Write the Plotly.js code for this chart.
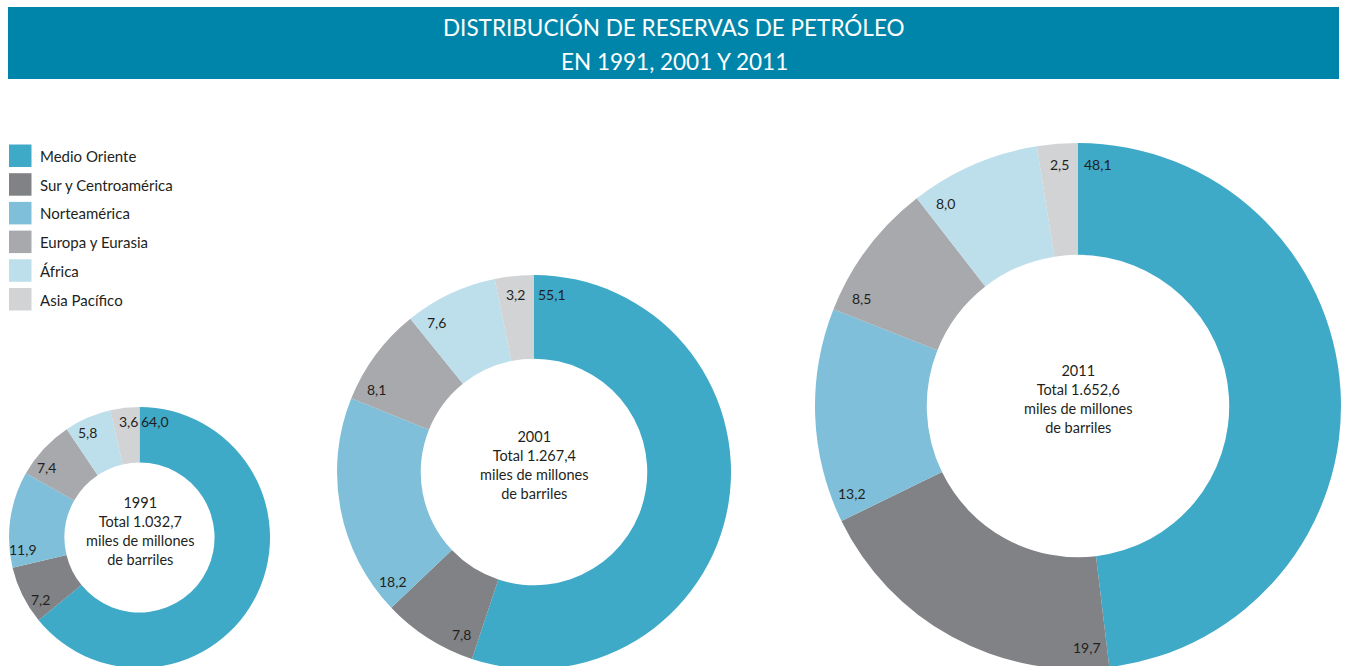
<!DOCTYPE html>
<html>
<head>
<meta charset="utf-8">
<script src="https://cdn.plot.ly/plotly-3.0.1.min.js"></script>
<style>
html,body{margin:0;padding:0;background:#fff;overflow:hidden;width:1345px;height:666px;}
#chart{width:1345px;height:700px;}
</style>
</head>
<body>
<div id="chart"></div>
<script>
// ---- DATA ----
const regions = ["Medio Oriente", "Sur y Centroamérica", "Norteamérica", "Europa y Eurasia", "África", "Asia Pacífico"];
const years = ["1991", "2001", "2011"];
const totals = ["1.032,7", "1.267,4", "1.652,6"];
const shares1991 = [64.0, 7.2, 11.9, 7.4, 5.8, 3.6];
const shares2001 = [55.1, 7.8, 18.2, 8.1, 7.6, 3.2];
const shares2011 = [48.1, 19.7, 13.2, 8.5, 8.0, 2.5];
const titleLines = ["DISTRIBUCIÓN DE RESERVAS DE PETRÓLEO", "EN 1991, 2001 Y 2011"];

// ---- STYLE ----
const colors = ["#3fa9c8", "#808285", "#7fbfd9", "#a7a9ac", "#bddfeb", "#d1d3d4"];
const W = 1345, H = 700;
const FONT = "Lato, 'Open Sans', sans-serif";
const TXT = "#231f20";
const geom = [
  {cx: 139.5, cy: 537.5, r: 130.5, lf: 0.895, off: 7.5},
  {cx: 534,   cy: 472,   r: 197,   lf: 0.905, off: 5.7},
  {cx: 1078,  cy: 406,   r: 263,   lf: 0.92,  off: 4.7}
];
const allShares = [shares1991, shares2001, shares2011];

const traces = [];
const annotations = [];
const shapes = [];

allShares.forEach((vals, i) => {
  const g = geom[i];
  traces.push({
    type: "pie",
    values: vals,
    labels: regions,
    sort: false,
    direction: "clockwise",
    rotation: 0,
    hole: 0.575,
    textinfo: "none",
    hoverinfo: "label+value",
    marker: {colors: colors, line: {width: 0}},
    domain: {
      x: [(g.cx - g.r) / W, (g.cx + g.r) / W],
      y: [1 - (g.cy + g.r) / H, 1 - (g.cy - g.r) / H]
    },
    showlegend: false
  });
  // centre text
  annotations.push({
    xref: "paper", yref: "paper",
    x: g.cx / W, y: 1 - (g.cy - 7) / H,
    xanchor: "center", yanchor: "middle", align: "center", showarrow: false,
    text: years[i] + "<br>Total " + totals[i] + "<br>miles de millones<br>de barriles",
    font: {family: FONT, size: 14.5, color: TXT}
  });
  // value labels near the outer edge at the start of each slice
  const sum = vals.reduce((a, b) => a + b, 0);
  let cum = 0;
  vals.forEach((v) => {
    const ang = (cum / sum) * 360 + g.off;
    const rad = ang * Math.PI / 180;
    const R = g.r * g.lf;
    annotations.push({
      xref: "paper", yref: "paper",
      x: (g.cx + R * Math.sin(rad)) / W,
      y: 1 - (g.cy - R * Math.cos(rad)) / H,
      xanchor: "center", yanchor: "middle",
      text: v.toFixed(1).replace(".", ","),
      showarrow: false,
      font: {family: FONT, size: 14, color: TXT}
    });
    cum += v;
  });
});

// Title bar
shapes.push({type: "rect", xref: "paper", yref: "paper",
  x0: 8 / W, x1: 1339 / W, y0: 1 - 79 / H, y1: 1 - 7 / H,
  fillcolor: "#0085aa", line: {width: 0}, layer: "below"});
titleLines.forEach((t, k) => {
  annotations.push({xref: "paper", yref: "paper", x: 674 / W, y: 1 - (27 + 34 * k) / H,
    xanchor: "center", yanchor: "middle", showarrow: false, text: t,
    font: {family: FONT, size: 22.5, color: "#ffffff"}});
});

// Legend
regions.forEach((name, k) => {
  const top = 144.5 + k * 28.7;
  shapes.push({type: "rect", xref: "paper", yref: "paper",
    x0: 9 / W, x1: 31.5 / W, y0: 1 - (top + 22.5) / H, y1: 1 - top / H,
    fillcolor: colors[k], line: {width: 0}});
  annotations.push({xref: "paper", yref: "paper", x: 38 / W, y: 1 - (top + 11.5) / H,
    xanchor: "left", yanchor: "middle", showarrow: false, text: name,
    font: {family: FONT, size: 15, color: TXT}});
});

const layout = {
  width: W, height: H,
  margin: {l: 0, r: 0, t: 0, b: 0},
  paper_bgcolor: "#ffffff",
  showlegend: false,
  shapes: shapes,
  annotations: annotations
};

Plotly.newPlot("chart", traces, layout, {displayModeBar: false});
</script>
</body>
</html>
